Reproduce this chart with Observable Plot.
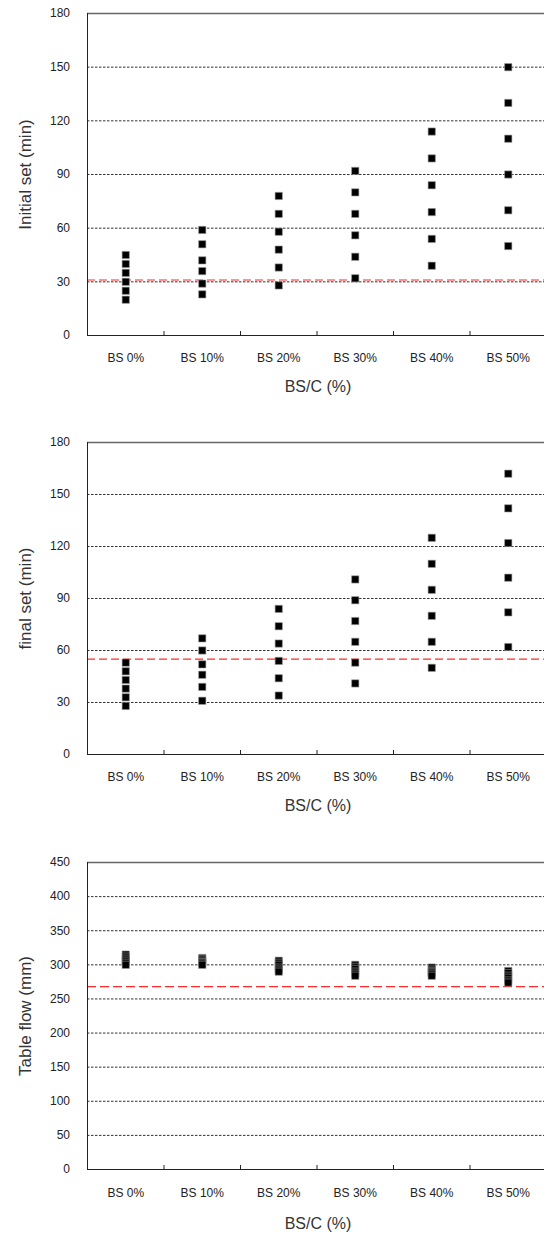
<!DOCTYPE html>
<html><head><meta charset="utf-8">
<script src="https://cdn.jsdelivr.net/npm/d3@7"></script>
<script src="https://cdn.jsdelivr.net/npm/@observablehq/plot@0.6"></script>
<style>
body{margin:0;background:#fff;overflow:hidden}
svg{display:block}
</style>
</head><body><div id="chart"></div>
<script>
// Categories (x axis)
const categories = ["BS 0%", "BS 10%", "BS 20%", "BS 30%", "BS 40%", "BS 50%"];
const xTitle = "BS/C (%)";

// Panel 1: Initial set (min)
const initialSet = [
  [45, 40, 35, 30, 25, 20],
  [59, 51, 42, 36, 29, 23],
  [78, 68, 58, 48, 38, 28],
  [92, 80, 68, 56, 44, 32],
  [114, 99, 84, 69, 54, 39],
  [150, 130, 110, 90, 70, 50]
];
const initialRef = 31;
const initialTicks = [0, 30, 60, 90, 120, 150, 180];

// Panel 2: final set (min)
const finalSet = [
  [53, 48, 43, 38, 33, 28],
  [67, 60, 52, 46, 39, 31],
  [84, 74, 64, 54, 44, 34],
  [101, 89, 77, 65, 53, 41],
  [125, 110, 95, 80, 65, 50],
  [162, 142, 122, 102, 82, 62]
];
const finalRef = 55;
const finalTicks = [0, 30, 60, 90, 120, 150, 180];

// Panel 3: Table flow (mm)
const tableFlow = [
  [315, 312, 309, 306, 303, 300],
  [310, 308, 306, 304, 302, 300],
  [306, 303, 300, 296, 293, 290],
  [300, 297, 294, 290, 287, 284],
  [296, 293, 291, 289, 287, 284],
  [291, 288, 284, 281, 277, 274]
];
const flowRef = 268;
const flowTicks = [0, 50, 100, 150, 200, 250, 300, 350, 400, 450];

function panel({values, yTicks, refValue, yLabel, height, marginTop, marginBottom, labelPad, titleDy, redDash}) {
  const rows = values.flatMap((arr, i) => arr.map(v => ({i, v})));
  const yMax = yTicks[yTicks.length - 1];
  const plotH = height - marginTop - marginBottom;
  const boundaries = categories.slice(1).map((c, i) => i + 0.5);
  return Plot.plot({
    width: 544,
    height,
    marginTop,
    marginBottom,
    marginLeft: 87,
    marginRight: 0,
    style: {fontFamily: "'Liberation Sans', Arial, sans-serif", fontSize: "12px", color: "#222", background: "#fff", overflow: "hidden"},
    x: {domain: [-0.5, categories.length - 0.5], range: [87, 546]},
    y: {domain: [0, yMax]},
    marks: [
      Plot.ruleY(yTicks.filter(t => t > 0 && t < yMax), {stroke: "#333", strokeDasharray: "2.5,1.5", strokeWidth: 1}),
      Plot.ruleY([refValue], {stroke: "#ff2a2a", strokeDasharray: redDash, strokeWidth: 1.1}),
      Plot.ruleY([yMax], {stroke: "#666", strokeWidth: 1.5}),
      Plot.ruleY([0], {stroke: "#222", strokeWidth: 1}),
      Plot.ruleX([-0.5], {stroke: "#222", strokeWidth: 1}),
      Plot.ruleX(boundaries, {stroke: "#222", strokeWidth: 1, insetTop: plotH - 4}),
      Plot.dot(rows, {x: "i", y: "v", symbol: "square", r: 4.1, fill: "#000", stroke: "#999", strokeWidth: 0.6}),
      Plot.axisY({ticks: yTicks, tickSize: 0, tickPadding: 17.5, label: null, fontSize: 12, tickFormat: d => String(d)}),
      Plot.axisX({ticks: categories.map((c, i) => i), tickFormat: i => categories[i], tickSize: 0, tickPadding: labelPad, label: null, fontSize: 12, style: {letterSpacing: "0.7px"}}),
      Plot.text([yLabel], {text: d => d, frameAnchor: "left", textAnchor: "middle", rotate: -90, dx: -62, lineAnchor: "middle", fontSize: 17, fill: "#333", style: {letterSpacing: "0.8px"}}),
      Plot.text([xTitle], {text: d => d, frameAnchor: "bottom", textAnchor: "middle", dx: 2, dy: titleDy, lineAnchor: "middle", fontSize: 16, fill: "#333", style: {letterSpacing: "1px"}})
    ]
  });
}

const root = document.getElementById("chart");
root.append(panel({values: initialSet, yTicks: initialTicks, refValue: initialRef, yLabel: "Initial set (min)", height: 410, marginTop: 13, marginBottom: 75, labelPad: 17.5, titleDy: 51, redDash: "8,4"}));
root.append(panel({values: finalSet, yTicks: finalTicks, refValue: finalRef, yLabel: "final set (min)", height: 420, marginTop: 32, marginBottom: 76, labelPad: 17.5, titleDy: 51, redDash: "8,4"}));
root.append(panel({values: tableFlow, yTicks: flowTicks, refValue: flowRef, yLabel: "Table flow (mm)", height: 404, marginTop: 32, marginBottom: 65, labelPad: 19, titleDy: 54, redDash: "9,4"}));
</script>
</body></html>
